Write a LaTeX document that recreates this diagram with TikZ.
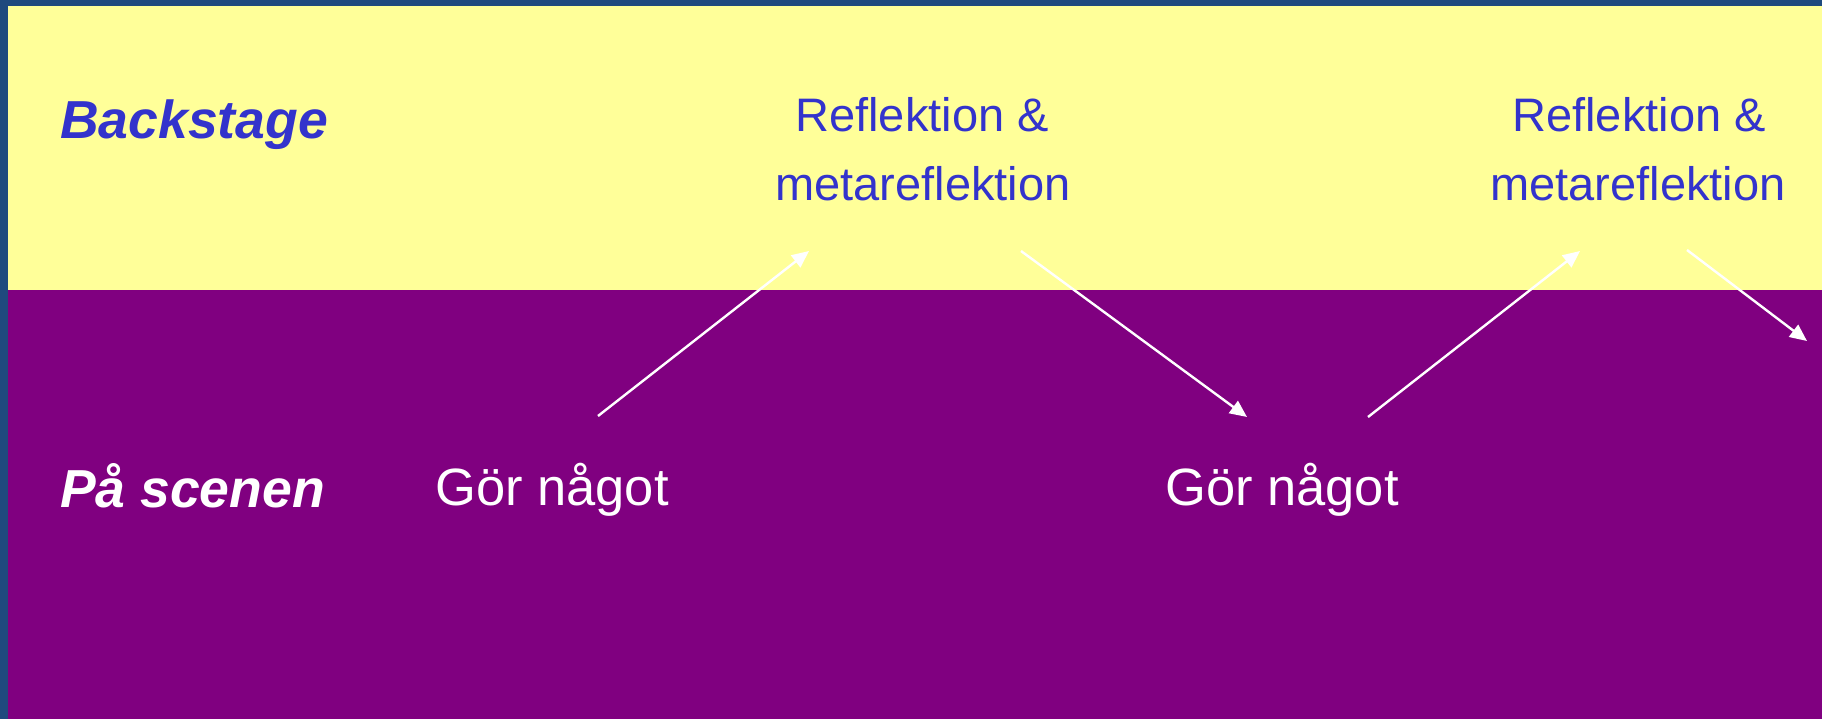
\documentclass[tikz,border=0pt]{standalone}
\usepackage{fontspec}
\setmainfont{Liberation Sans}
\usetikzlibrary{arrows.meta}

\definecolor{frameblue}{HTML}{1F4A7E}
\definecolor{backyellow}{HTML}{FFFF99}
\definecolor{stagepurple}{HTML}{800080}
\definecolor{textblue}{HTML}{3333CC}

\tikzset{
  rowlabel/.style={anchor=base, inner sep=0pt, font=\fontsize{53.5}{60}\selectfont\bfseries\itshape},
  actlabel/.style={anchor=base, inner sep=0pt, text=white, font=\fontsize{52.5}{60}\selectfont},
  reflabel/.style={anchor=base, inner sep=0pt, text=textblue, font=\fontsize{47}{55}\selectfont},
  flow/.style={draw=white, line width=2.4pt, -{Triangle[length=17pt,width=15pt]}}
}

\begin{document}
\begin{tikzpicture}[x=1pt,y=-1pt]
  \useasboundingbox (0,0) rectangle (1822,719);

  % frame and the two stage bands
  \fill[frameblue] (0,0) rectangle (1822,719);
  \fill[backyellow] (8,6) rectangle (1822,290);
  \fill[stagepurple] (8,290) rectangle (1822,719);

  % row titles
  \node[rowlabel, text=textblue, anchor=base west] (back) at (60,139) {Backstage};
  \node[rowlabel, text=white, anchor=base west] (scene) at (60,507) {På scenen};

  % actions on stage
  \node[actlabel, anchor=base west] (act1) at (435,505) {Gör något};
  \node[actlabel, anchor=base west] (act2) at (1165,505) {Gör något};

  % reflection backstage
  \node[reflabel] (ref1a) at (922,132) {Reflektion \&};
  \node[reflabel] (ref1b) at (923,201) {metareflektion};
  \node[reflabel] (ref2a) at (1639,132) {Reflektion \&};
  \node[reflabel] (ref2b) at (1638,201) {metareflektion};

  % arrow end points
  \coordinate (up1s) at (598,416);
  \coordinate (up1e) at (809,251);
  \coordinate (dn1s) at (1021,251);
  \coordinate (dn1e) at (1247,417);
  \coordinate (up2s) at (1368,417);
  \coordinate (up2e) at (1580,251);
  \coordinate (dn2s) at (1687,250);
  \coordinate (dn2e) at (1807,341);

  \draw[flow] (up1s) -- (up1e);
  \draw[flow] (dn1s) -- (dn1e);
  \draw[flow] (up2s) -- (up2e);
  \draw[flow] (dn2s) -- (dn2e);
\end{tikzpicture}
\end{document}
